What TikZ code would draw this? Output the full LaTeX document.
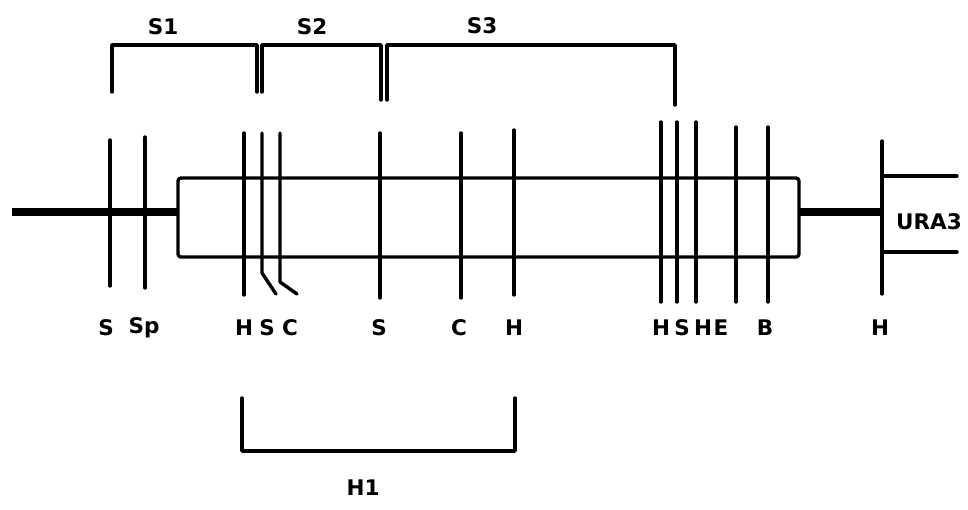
\documentclass[tikz,border=0pt]{standalone}
\usepackage{fontspec}
\setmainfont{DejaVu Sans}
\begin{document}
\begin{tikzpicture}[x=1pt,y=-1pt,
  thin line/.style={line width=3.4pt,line cap=round,line join=round},
  thick line/.style={line width=8pt},
  lbl/.style={font=\bfseries\fontsize{21.5}{25}\selectfont,inner sep=0pt,anchor=center}]
\useasboundingbox (0,0) rectangle (968,510);
% vector backbone
\draw[thick line] (12,212) -- (178,212);
\draw[thick line] (799,212) -- (882,212);
\draw[thin line,rounded corners=3pt] (178,178) rectangle (799,257);
% URA3
\draw[thin line] (882,141) -- (882,294);
\draw[thin line] (882,176) -- (957,176);
\draw[thin line] (882,252) -- (957,252);
\node[lbl] (ura) at (929,222) {URA3};
% restriction sites (straight)
\foreach \x/\t/\b in {110/140/286, 145/137/288, 244/133/295, 380/133/298, 461/133/298, 514/130/295,
                      661/122/302, 677/122/302, 696/122/302, 736/127/302, 768/127/302}
  \draw[thin line] (\x,\t) -- (\x,\b);
% bent sites
\draw[thin line] (262,133) -- (262,273) -- (276,294);
\draw[thin line] (280,133) -- (280,282) -- (297,294);
% site labels
\foreach \n/\x/\s in {s1/106/S, sp/144/Sp, h1/244/H, s2/267/S, c1/290/C, s3/379/S, c2/459/C, h2/514/H,
                      h3/661/H, s4/682/S, h4/703/H, e1/721/E, b1/765/B, h5/880/H}
  \node[lbl] (\n) at (\x,328) {\s};
% top brackets
\draw[thin line] (112,92) -- (112,45) -- (257,45) -- (257,92);
\draw[thin line] (262,92) -- (262,45) -- (381,45) -- (381,100);
\draw[thin line] (387,100) -- (387,45) -- (675,45) -- (675,105);
\node[lbl] (S1) at (163,27) {S1};
\node[lbl] (S2) at (312,27) {S2};
\node[lbl] (S3) at (482,26) {S3};
% bottom bracket
\draw[thin line] (242,398) -- (242,451) -- (515,451) -- (515,398);
\node[lbl] (H1) at (363,488) {H1};
\end{tikzpicture}
\end{document}
